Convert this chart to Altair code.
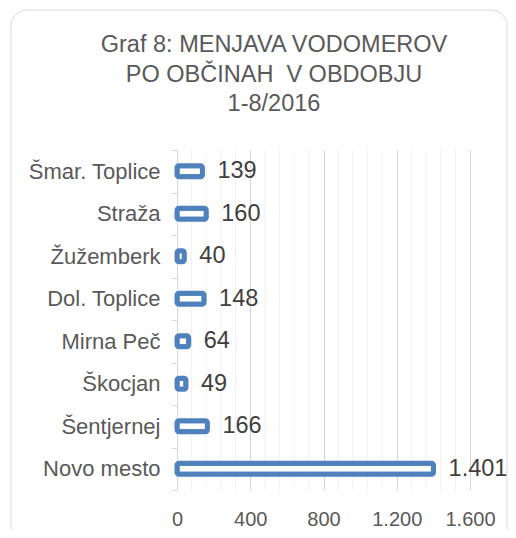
import altair as alt
import pandas as pd

FONT = "Liberation Sans, Arial, Helvetica, sans-serif"

categories = ["Šmar. Toplice", "Straža", "Žužemberk", "Dol. Toplice",
              "Mirna Peč", "Škocjan", "Šentjernej", "Novo mesto"]
values = [139, 160, 40, 148, 64, 49, 166, 1401]
title_lines = ["Graf 8: MENJAVA VODOMEROV", "PO OBČINAH\u00a0 V OBDOBJU", "1-8/2016"]
major_ticks = [0, 400, 800, 1200, 1600]
minor_grid = [80, 160, 240, 320, 480, 560, 640, 720, 880, 960,
              1040, 1120, 1280, 1360, 1440, 1520]

df = pd.DataFrame({"obcina": categories, "n": values})
minor_df = pd.DataFrame({"g": minor_grid})

x_scale = alt.Scale(domain=[0, 1600], nice=False, zero=True)

x_axis = alt.Axis(values=major_ticks, grid=True, gridColor="#d4d4d4",
                  ticks=False, tickSize=0, domain=False, labelOverlap=False, labelFlush=False,
                  labelExpr="replace(format(datum.value, ','), ',', '.')",
                  labelFont=FONT, labelFontSize=20, labelColor="#595959", labelPadding=19)

y_enc = alt.Y(
    "obcina:N", sort=categories, title=None,
    scale=alt.Scale(paddingInner=0, paddingOuter=0),
    axis=alt.Axis(tickBand="extent", tickSize=6, tickColor="#d9d9d9",
                  domainColor="#d9d9d9", labelFont=FONT, labelFontSize=22,
                  labelColor="#595959", labelPadding=11, grid=False),
)

minor = alt.Chart(minor_df).mark_rule(color="#f0f0f0", strokeWidth=1).encode(
    x=alt.X("g:Q", scale=x_scale, axis=x_axis, title=None)
)

bars = alt.Chart(df).mark_bar(
    fill="white", stroke="#4F81BD", strokeWidth=5, size=11, cornerRadius=2
).encode(x=alt.X("n:Q", scale=x_scale, axis=x_axis, title=None), y=y_enc)

labels = alt.Chart(df).transform_calculate(
    lbl="replace(format(datum.n, ','), ',', '.')"
).mark_text(align="left", baseline="middle", dx=15, font=FONT, fontSize=23.5,
            color="#404040").encode(
    x=alt.X("n:Q", scale=x_scale, axis=x_axis, title=None),
    y=alt.Y("obcina:N", sort=categories), text="lbl:N"
)

title = alt.Chart(alt.Data(values=[{}])).mark_text(
    text=title_lines, font=FONT, fontSize=23.5, lineHeight=29.5, color="#595959",
    align="center", baseline="alphabetic"
).encode(x=alt.value(97), y=alt.value(-98))

border = alt.Chart(alt.Data(values=[{}])).mark_rect(
    fillOpacity=0, stroke="#d9d9d9", strokeWidth=1, cornerRadius=16
).encode(x=alt.value(-166), x2=alt.value(330), y=alt.value(-140), y2=alt.value(420))

chart = alt.layer(border, minor, bars, labels, title).properties(
    width=293, height=340,
    autosize=alt.AutoSizeParams(type="none"),
    padding={"left": 169, "top": 142, "right": 38, "bottom": 40},
    background="white",
).configure_view(stroke=None)

chart.save("out.html", embed_options={"renderer": "svg", "actions": False})
